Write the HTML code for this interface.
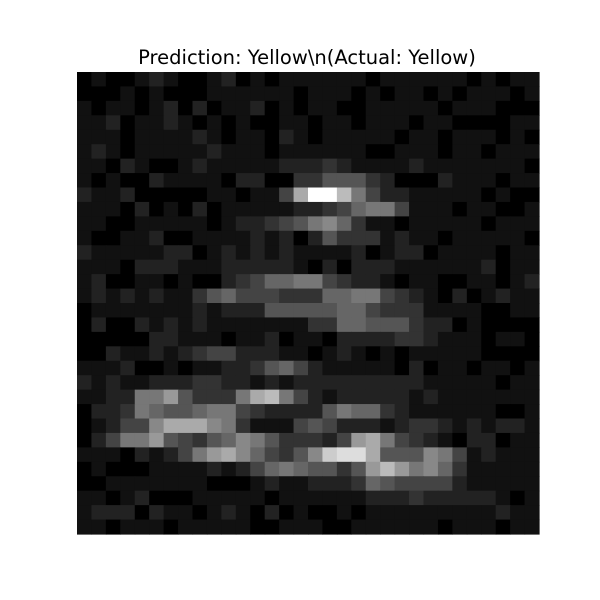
<!DOCTYPE html>
<html><head><meta charset="utf-8"><style>
html,body{margin:0;padding:0;background:#fff;}
svg{display:block;}
</style></head><body>
<svg id="chart" width="600" height="600" viewBox="0 0 600 600" xmlns="http://www.w3.org/2000/svg">
<rect width="600" height="600" fill="#fff"/>
<text x="307" y="64" text-anchor="middle" font-family="DejaVu Sans, Liberation Sans, sans-serif" font-size="19.5" fill="#000">Prediction: Yellow\n(Actual: Yellow)</text>
<g id="cells"></g>
</svg>
<script>
const rows = [
[0,1,0,0,1,2,1,0,0,1,2,0,1,0,1,1, 1,1,1,1,0,1,1,1,1,1,1,0,1,0,1,1],
[0,0,0,1,0,1,0,0,0,1,1,1,1,1,1,0, 1,1,1,0,1,0,1,1,0,1,0,1,1,1,0,1],
[1,0,1,1,0,1,2,0,2,0,1,1,2,0,1,0, 1,1,0,0,1,1,1,1,1,0,1,1,1,0,0,0],
[1,1,2,0,1,1,2,1,0,1,0,1,0,0,1,1, 0,1,1,0,1,1,1,0,1,1,0,0,0,0,1,1],
[1,1,1,0,1,1,1,1,2,1,0,1,1,0,2,1, 0,1,1,1,1,1,0,1,1,0,1,1,1,0,1,0],
[1,2,1,0,1,1,1,1,1,2,1,1,1,0,1,1, 1,1,1,1,0,0,1,1,1,0,1,1,0,1,1,1],
[1,1,0,2,1,0,0,1,2,1,1,1,1,1,2,2, 2,3,2,1,1,1,1,2,1,1,1,1,1,1,1,0],
[1,0,1,0,0,2,1,1,1,1,0,2,2,0,0,3, 3,5,5,5,3,2,0,0,0,2,1,1,1,0,1,1],
[2,1,1,2,0,0,0,0,0,1,1,0,1,1,4,10, 15,15,11,7,4,2,2,1,1,1,1,1,0,1,0,0],
[1,1,1,0,2,0,1,0,2,0,1,1,1,1,1,2, 2,3,4,6,7,7,4,1,1,1,0,1,1,0,0,1],
[1,1,0,0,1,1,1,1,1,0,1,2,2,3,4,5, 7,8,6,3,1,1,0,1,1,1,1,1,0,1,1,1],
[1,0,0,1,1,2,0,0,1,1,1,1,2,1,2,0, 2,5,3,3,3,1,2,1,1,0,1,1,1,1,1,0],
[2,1,1,1,1,1,2,2,0,1,2,1,2,1,2,1, 1,1,1,2,0,1,2,2,0,1,1,1,1,0,1,1],
[1,1,1,0,2,2,2,1,1,1,2,2,2,2,2,1, 0,2,0,2,2,2,1,1,1,1,1,1,2,0,1,1],
[1,2,0,0,1,1,0,1,0,0,2,3,4,6,6,7, 7,4,3,2,2,1,0,1,1,0,0,1,1,0,1,2],
[1,2,1,2,1,2,1,1,3,5,6,4,4,4,3,3, 3,6,6,7,7,4,3,2,1,0,2,0,1,2,1,1],
[0,1,1,1,1,1,1,1,2,1,2,2,2,5,5,5, 5,5,6,6,4,3,3,3,1,1,1,1,0,0,1,1],
[0,2,0,0,2,1,2,1,2,1,1,1,1,1,1,1, 3,3,6,6,5,5,5,3,2,2,0,1,0,0,0,0],
[0,0,0,0,0,2,2,1,1,1,0,1,1,2,0,1, 1,0,2,2,2,2,3,3,2,1,1,1,0,1,1,0],
[0,0,2,1,1,2,1,2,3,4,4,2,2,2,1,1, 0,1,2,1,0,1,0,1,1,1,1,1,0,0,0,0],
[1,1,1,2,0,0,1,0,1,1,2,2,3,5,6,4, 2,1,1,1,1,1,0,2,0,1,1,0,1,1,0,1],
[2,1,2,1,1,2,2,2,3,3,2,2,1,2,1,2, 2,2,2,2,2,2,2,2,1,1,1,1,1,0,1,1],
[1,1,2,2,7,7,9,5,3,3,3,7,10,11,7,4, 2,1,2,2,2,2,2,1,2,1,1,1,1,1,1,1],
[0,2,2,3,7,6,5,5,6,7,7,4,3,2,2,2, 2,5,7,6,6,3,2,1,1,1,1,1,1,0,0,1],
[0,1,2,4,4,8,10,10,10,8,7,3,1,1,1,4, 5,4,2,2,2,1,2,3,3,2,1,2,1,2,2,1],
[0,2,4,7,7,9,5,4,3,5,6,8,7,5,3,3, 3,2,4,9,10,7,4,3,2,1,0,2,2,0,1,1],
[1,1,1,0,2,1,2,4,7,9,10,8,6,4,3,5, 8,12,13,13,10,5,5,5,8,7,4,1,2,1,1,1],
[0,1,0,0,0,1,1,1,1,2,1,2,4,6,7,6, 5,5,3,5,9,11,9,7,8,6,3,1,1,1,1,1],
[0,0,1,1,1,1,1,1,1,0,0,0,1,2,1,1, 2,2,2,3,6,5,4,4,4,4,2,1,1,1,1,1],
[1,1,0,1,2,0,0,0,1,1,1,1,1,0,1,1, 1,1,1,1,2,2,2,3,2,2,2,2,2,1,0,1],
[1,2,2,2,0,2,1,1,0,1,2,1,0,2,0,1, 0,0,1,0,1,1,1,1,1,1,1,1,1,2,1,1],
[1,1,0,1,1,1,0,1,1,1,1,1,0,0,1,1, 1,0,0,1,1,1,1,1,1,0,1,1,1,0,1,1]
];
const vmin = 0, vmax = 15;
const X0 = 77, Y0 = 72, W = 462, H = 462;
const nR = rows.length, nC = rows[0].length;
function xs(c){ return X0 + c * W / nC; }
function ys(r){ return Y0 + r * H / nR; }
function gray(v){ const g = Math.round(255 * (v - vmin) / (vmax - vmin)); return `rgb(${g},${g},${g})`; }
const g = document.getElementById('cells');
const NS = 'http://www.w3.org/2000/svg';
for (let r = 0; r < nR; r++) {
  for (let c = 0; c < nC; c++) {
    const el = document.createElementNS(NS, 'rect');
    el.setAttribute('x', xs(c));
    el.setAttribute('y', ys(r));
    el.setAttribute('width', W / nC + 0.6);
    el.setAttribute('height', H / nR + 0.6);
    el.setAttribute('fill', gray(rows[r][c]));
    
    
    g.appendChild(el);
  }
}
</script>
</body></html>
